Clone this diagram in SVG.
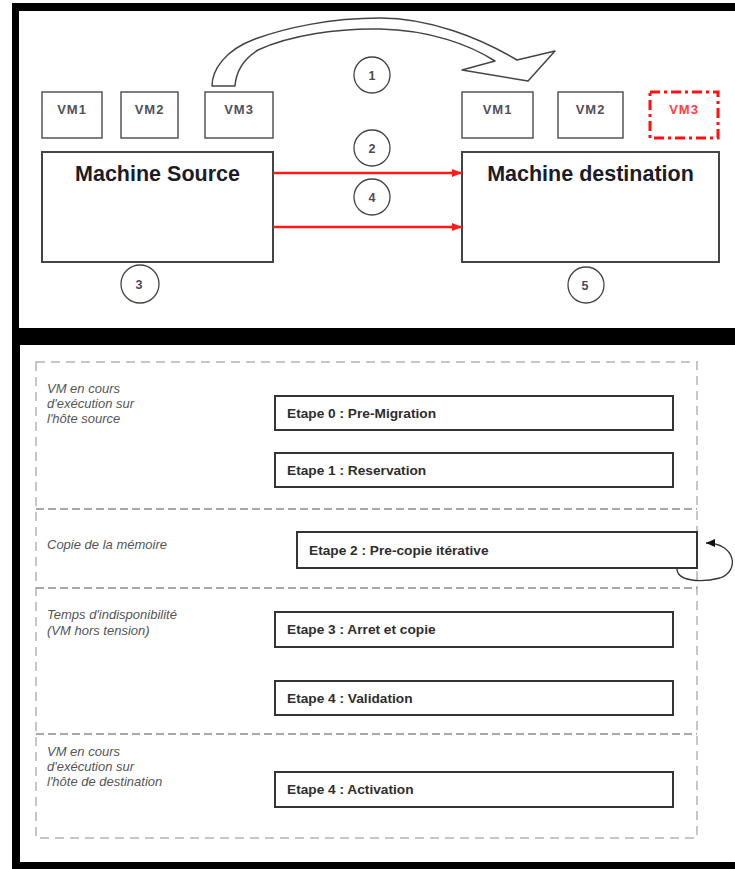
<svg xmlns="http://www.w3.org/2000/svg" width="735" height="869" viewBox="0 0 735 869">
  <style>
    .vm { fill: #fff; stroke: #555; stroke-width: 1.5; }
    .vmtxt { font-family: "Liberation Sans", Arial, sans-serif; font-size: 13px; font-weight: bold; fill: #50505c; text-anchor: middle; letter-spacing: 1px; }
    .host { fill: #fff; stroke: #444; stroke-width: 2; }
    .hosttxt { font-family: "Liberation Sans", Arial, sans-serif; font-size: 21.5px; font-weight: bold; fill: #1c1c28; text-anchor: middle; }
    .step { fill: none; stroke: #444; stroke-width: 1.3; }
    .steptxt { font-family: "Liberation Sans", Arial, sans-serif; font-size: 12.5px; font-weight: bold; fill: #4a4a5a; text-anchor: middle; }
    .lane { fill: none; stroke: #b4b4b4; stroke-width: 1.5; stroke-dasharray: 9 6; }
    .sep { fill: none; stroke: #8c8c8c; stroke-width: 1.5; stroke-dasharray: 8 4; }
    .lanetxt { font-family: "Liberation Sans", Arial, sans-serif; font-size: 13px; font-style: italic; fill: #555; }
    .phase { fill: #fff; stroke: #333; stroke-width: 2; }
    .phasetxt { font-family: "Liberation Sans", Arial, sans-serif; font-size: 13.7px; font-weight: bold; fill: #2e2e2e; }
    .transfer { fill: none; stroke: #ff1a1a; stroke-width: 2.5; }
  </style>
  <defs>
    <marker id="redHead" markerWidth="10" markerHeight="8" refX="10" refY="4" orient="auto" markerUnits="userSpaceOnUse">
      <path d="M0,0 L10,4 L0,8 Z" fill="#ff1a1a"/>
    </marker>
    <marker id="blackHead" markerWidth="9" markerHeight="8" refX="9" refY="4" orient="auto" markerUnits="userSpaceOnUse">
      <path d="M0,0 L9,4 L0,8 Z" fill="#111"/>
    </marker>
  </defs>

  <!-- page background and black frames -->
  <rect x="0" y="0" width="735" height="869" fill="#fff"/>
  <rect x="12" y="3" width="723" height="866" fill="#000"/>
  <rect x="19" y="11" width="716" height="317" fill="#fff"/>
  <rect x="20" y="345" width="715" height="517" fill="#fff"/>

  <!-- ===== upper panel: hosts and VMs ===== -->
  <g id="vm-src-1"><rect class="vm" x="42" y="92" width="60" height="46"/><text class="vmtxt" x="72" y="114">VM1</text></g>
  <g id="vm-src-2"><rect class="vm" x="121" y="92" width="57" height="46"/><text class="vmtxt" x="149.5" y="114">VM2</text></g>
  <g id="vm-src-3"><rect class="vm" x="205" y="92" width="68" height="46"/><text class="vmtxt" x="239" y="114">VM3</text></g>

  <g id="vm-dst-1"><rect class="vm" x="462" y="92" width="71" height="46"/><text class="vmtxt" x="497.5" y="114">VM1</text></g>
  <g id="vm-dst-2"><rect class="vm" x="558" y="92" width="65" height="46"/><text class="vmtxt" x="590.5" y="114">VM2</text></g>
  <g id="vm-dst-3">
    <rect x="650" y="92" width="68" height="46" fill="#fff" stroke="#ff1010" stroke-width="3" stroke-dasharray="10 4 3 4"/>
    <text class="vmtxt" x="684" y="114" style="fill:#ff4040">VM3</text>
  </g>

  <g id="host-source"><rect class="host" x="42" y="152" width="231" height="110"/><text class="hosttxt" x="157.5" y="181">Machine Source</text></g>
  <g id="host-destination"><rect class="host" x="462" y="152" width="257" height="110"/><text class="hosttxt" x="590.5" y="181">Machine destination</text></g>

  <g id="step-1"><circle class="step" cx="372" cy="75" r="18"/><text class="steptxt" x="372" y="79.5">1</text></g>
  <g id="step-2"><circle class="step" cx="372" cy="148" r="18"/><text class="steptxt" x="372" y="152.5">2</text></g>
  <g id="step-4"><circle class="step" cx="372" cy="197" r="18"/><text class="steptxt" x="372" y="201.5">4</text></g>
  <g id="step-3"><circle class="step" cx="140" cy="284" r="19"/><text class="steptxt" x="139" y="288.5">3</text></g>
  <g id="step-5"><circle class="step" cx="586" cy="285" r="18"/><text class="steptxt" x="585" y="289.5">5</text></g>

  <!-- ===== lower panel: migration phases ===== -->
  <g id="lanes">
    <rect class="lane" x="36" y="362" width="661" height="476"/>
    <line class="sep" x1="36" y1="509" x2="697" y2="509"/>
    <line class="sep" x1="36" y1="588" x2="697" y2="588"/>
    <line class="sep" x1="36" y1="734" x2="697" y2="734"/>
  </g>

  <g id="lane-source">
    <text class="lanetxt" x="47" y="393">VM en cours</text>
    <text class="lanetxt" x="47" y="408">d'exécution sur</text>
    <text class="lanetxt" x="47" y="423">l'hôte source</text>
  </g>
  <g id="lane-copy"><text class="lanetxt" x="47" y="549">Copie de la mémoire</text></g>
  <g id="lane-downtime">
    <text class="lanetxt" x="47" y="619">Temps d'indisponibilité</text>
    <text class="lanetxt" x="47" y="635">(VM hors tension)</text>
  </g>
  <g id="lane-destination">
    <text class="lanetxt" x="47" y="756">VM en cours</text>
    <text class="lanetxt" x="47" y="771">d'exécution sur</text>
    <text class="lanetxt" x="47" y="786">l'hôte de destination</text>
  </g>

  <g id="phase-0"><rect class="phase" x="275" y="396" width="398" height="34"/><text class="phasetxt" x="287" y="418">Etape 0 : Pre-Migration</text></g>
  <g id="phase-1"><rect class="phase" x="275" y="453" width="398" height="34"/><text class="phasetxt" x="287" y="475">Etape 1 : Reservation</text></g>
  <g id="phase-2"><rect class="phase" x="297" y="532" width="400" height="36"/><text class="phasetxt" x="309" y="555">Etape 2 : Pre-copie itérative</text></g>
  <g id="phase-3"><rect class="phase" x="275" y="612" width="398" height="35"/><text class="phasetxt" x="287" y="634">Etape 3 : Arret et copie</text></g>
  <g id="phase-4v"><rect class="phase" x="275" y="681" width="398" height="34"/><text class="phasetxt" x="287" y="703">Etape 4 : Validation</text></g>
  <g id="phase-4a"><rect class="phase" x="275" y="772" width="398" height="35"/><text class="phasetxt" x="287" y="794">Etape 4 : Activation</text></g>

  <!-- ===== connectors ===== -->
  <g id="connectors">
    <!-- curved block arrow moving VM3 to the destination -->
    <path d="M212,86 C212,70 225,50 255,39 C285,28 330,18 380,18 C430,18 480,38 517,60 L555,51 L528,81 L462,70 L495,61 C470,45 430,30 380,29 C340,28 290,35 258,50 C242,60 236,72 235,86 Z" fill="#fff" stroke="#444" stroke-width="1.5" stroke-linejoin="round"/>
    <!-- memory transfer links -->
    <line class="transfer" x1="273" y1="173" x2="462" y2="173" marker-end="url(#redHead)"/>
    <line class="transfer" x1="273" y1="227" x2="462" y2="227" marker-end="url(#redHead)"/>
    <!-- iterative pre-copy loop -->
    <path d="M677,568 C676,581 700,583 720,578 C740,571 736,543 706,543" fill="none" stroke="#333" stroke-width="1.3" marker-end="url(#blackHead)"/>
  </g>
</svg>
